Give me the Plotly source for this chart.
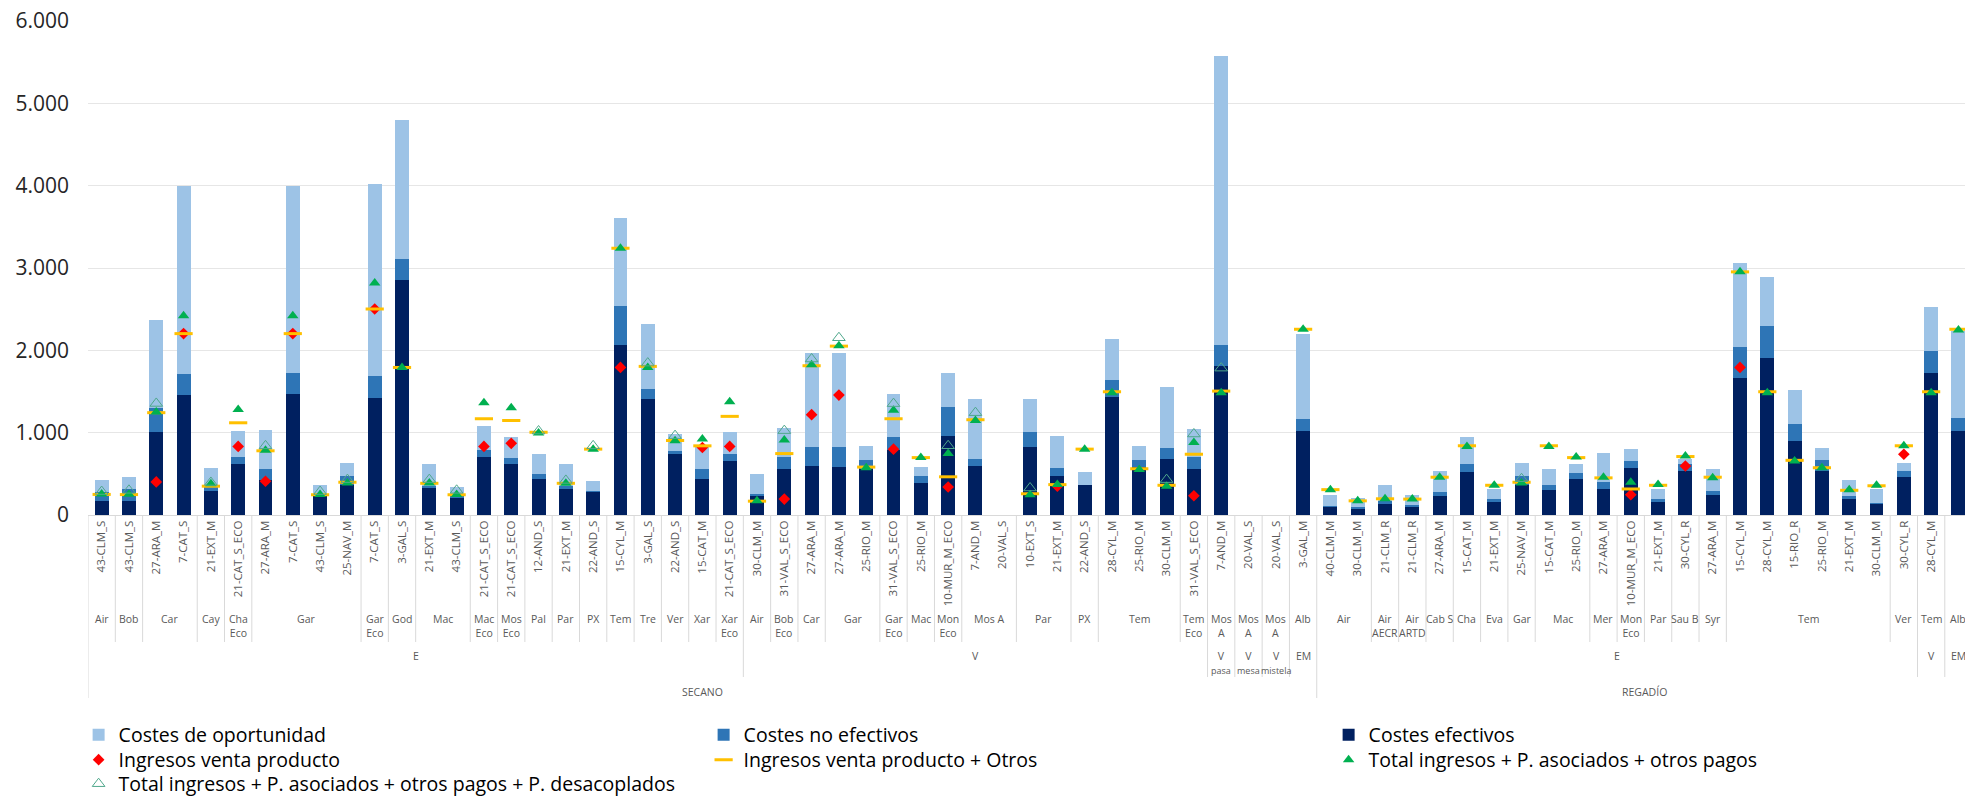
import plotly.graph_objects as go

# ---------------- data ----------------
codes = ["43-CLM_S", "43-CLM_S", "27-ARA_M", "7-CAT_S", "21-EXT_M", "21-CAT_S_ECO", "27-ARA_M", "7-CAT_S",
         "43-CLM_S", "25-NAV_M", "7-CAT_S", "3-GAL_S", "21-EXT_M", "43-CLM_S", "21-CAT_S_ECO", "21-CAT_S_ECO",
         "12-AND_S", "21-EXT_M", "22-AND_S", "15-CYL_M", "3-GAL_S", "22-AND_S", "15-CAT_M", "21-CAT_S_ECO",
         "30-CLM_M", "31-VAL_S_ECO", "27-ARA_M", "27-ARA_M", "25-RIO_M", "31-VAL_S_ECO", "25-RIO_M", "10-MUR_M_ECO",
         "7-AND_M", "20-VAL_S", "10-EXT_S", "21-EXT_M", "22-AND_S", "28-CYL_M", "25-RIO_M", "30-CLM_M",
         "31-VAL_S_ECO", "7-AND_M", "20-VAL_S", "20-VAL_S", "3-GAL_M",
         "40-CLM_M", "30-CLM_M", "21-CLM_R", "21-CLM_R", "27-ARA_M", "15-CAT_M", "21-EXT_M", "25-NAV_M",
         "15-CAT_M", "25-RIO_M", "27-ARA_M", "10-MUR_M_ECO", "21-EXT_M", "30-CYL_R", "27-ARA_M", "15-CYL_M",
         "28-CYL_M", "15-RIO_R", "25-RIO_M", "21-EXT_M", "30-CLM_M", "30-CYL_R", "28-CYL_M", "3-GAL_M"]

variety = ["Air", "Bob", "Car", "Car", "Cay", "Cha<br>Eco", "Gar", "Gar", "Gar", "Gar", "Gar<br>Eco", "God",
           "Mac", "Mac", "Mac<br>Eco", "Mos<br>Eco", "Pal", "Par", "PX", "Tem", "Tre", "Ver", "Xar", "Xar<br>Eco",
           "Air", "Bob<br>Eco", "Car", "Gar", "Gar", "Gar<br>Eco", "Mac", "Mon<br>Eco", "Mos A", "Mos A",
           "Par", "Par", "PX", "Tem", "Tem", "Tem", "Tem<br>Eco",
           "Mos<br>A", "Mos<br>A", "Mos<br>A", "Alb",
           "Air", "Air", "Air<br>AECR", "Air<br>ARTD", "Cab S", "Cha", "Eva", "Gar", "Mac", "Mac", "Mer",
           "Mon<br>Eco", "Par", "Sau B", "Syr", "Tem", "Tem", "Tem", "Tem", "Tem", "Tem", "Ver", "Tem", "Alb"]

vtype = (["E"] * 24 + ["V"] * 17
         + ["V<br><span style='font-size:9px'>pasa</span>",
            "V<br><span style='font-size:9px'>mesa</span>",
            "V<br><span style='font-size:9px'>mistela</span>", "EM"]
         + ["E"] * 22 + ["V", "EM"])

irrig = ["SECANO"] * 45 + ["REGADÍO"] * 24

cost_eff = [175, 175, 1005, 1455, 295, 615, 430, 1465, 225, 360, 1425, 2860, 325, 205, 700, 615,
            440, 320, 280, 2065, 1405, 740, 440, 655,
            225, 560, 595, 580, 555, 790, 390, 965, 595, None, 830, 470, 365, 1435, 585, 685, 560,
            1815, None, None, 1015,
            100, 80, 130, 95, 225, 520, 155, 360, 305, 440, 320, 565, 155, 540, 240, 1660,
            1905, 895, 540, 195, 135, 465, 1730, 1015]

cost_noeff = [110, 135, 290, 260, 50, 85, 130, 260, 35, 110, 265, 255, 25, 40, 95, 80,
              60, 30, 15, 470, 125, 40, 120, 90,
              35, 150, 225, 240, 115, 160, 80, 350, 90, None, 180, 105, 5, 205, 85, 125, 145,
              255, None, None, 145,
              15, 20, 40, 30, 50, 105, 35, 110, 55, 75, 80, 90, 40, 80, 55, 380,
              390, 205, 125, 40, 5, 75, 260, 165]

cost_opp = [135, 150, 1075, 2280, 230, 325, 475, 2275, 110, 165, 2330, 1685, 265, 90, 285, 250,
            245, 275, 115, 1075, 790, 205, 280, 265,
            240, 350, 1150, 1150, 165, 525, 110, 410, 730, None, 395, 380, 155, 500, 165, 740, 340,
            3510, None, None, 1035,
            125, 110, 200, 120, 260, 320, 125, 165, 200, 100, 350, 150, 125, 60, 260, 1025,
            590, 420, 150, 185, 170, 95, 540, 1060]

ing_venta = [None, None, 402, 2203, None, 833, 410, 2203, None, None, 2502, None, None, None, 833, 870,
             None, None, None, 1792, None, None, 820, 833,
             None, 193, 1218, 1456, None, 800, None, 340, None, None, None, 349, None, None, None, None, 234,
             None, None, None, None,
             None, None, None, None, None, None, None, None, None, None, None, 246, None, 595, None, 1792,
             None, None, None, None, None, 738, None, None]

ing_otros = [250, 248, 1243, 2203, 350, 1120, 780, 2203, 246, 398, 2502, 1792, 385, 246, 1169, 1148,
             1005, 385, 800, 3240, 1805, 905, 840, 1198,
             168, 746, 1813, 2051, 582, 1169, 697, 464, 1157, None, 258, 369, 800, 1497, 562, 361, 738,
             1505, None, None, 2256,
             308, 172, 197, 193, 459, 841, 361, 398, 841, 697, 451, 316, 361, 710, 459, 2953,
             1497, 664, 574, 300, 355, 841, 1497, 2256]

total_pa = [255, 252, 1250, 2420, 380, 1280, 785, 2420, 250, 390, 2818, 1792, 390, 250, 1362, 1304,
            995, 385, 800, 3240, 1792, 902, 923, 1374,
            172, 911, 1825, 2055, 574, 1272, 697, 746, 1148, None, 246, 369, 800, 1485, 554, 349, 882,
            1485, None, None, 2256,
            308, 172, 197, 193, 459, 833, 361, 390, 833, 705, 459, 398, 369, 718, 451, 2953,
            1485, 656, 574, 308, 361, 841, 1485, 2248]

total_desac = [285, 300, 1355, None, 395, None, 840, None, 285, 430, None, None, 430, 300, None, None,
               1020, 420, 840, None, 1845, 964, None, None,
               None, 1025, 1895, 2153, None, 1353, None, 841, 1243, None, 328, None, None, None, None, 430, 984,
               1784, None, None, None,
               None, None, None, None, None, None, None, 440, None, None, None, None, None, None, None, None,
               None, None, None, None, None, None, None, None]

y_ticks = [0, 1000, 2000, 3000, 4000, 5000, 6000]
y_ticktext = ["0", "1.000", "2.000", "3.000", "4.000", "5.000", "6.000"]

# ---------------- styling / layout constants ----------------
W, H = 1965, 797
PLOT_TOP, PLOT_BOTTOM = 21, 515
PLOT_LEFT = 88
PH = PLOT_BOTTOM - PLOT_TOP
FONT = "'Open Sans', Lato, sans-serif"
LBL = "#595959"
SEP = "#D9D9D9"

C_OPP, C_NOEFF, C_EFF = "#9DC3E6", "#2E75B6", "#002060"
C_RED, C_YEL, C_GRN, C_OPEN = "#FF0000", "#FFC000", "#00B050", "#4FA88C"


def py(ypx):
    """convert a pixel row of the page to paper y coordinate"""
    return (PLOT_BOTTOM - ypx) / PH


n = len(codes)
xs = list(range(n))

fig = go.Figure()
fig.add_bar(x=xs, y=cost_eff, name="Costes efectivos", marker=dict(color=C_EFF, line_width=0),
            legend="legend", legendrank=3)
fig.add_bar(x=xs, y=cost_noeff, name="Costes no efectivos", marker=dict(color=C_NOEFF, line_width=0),
            legend="legend", legendrank=2)
fig.add_bar(x=xs, y=cost_opp, name="Costes de oportunidad", marker=dict(color=C_OPP, line_width=0),
            legend="legend", legendrank=1)

fig.add_scatter(x=xs, y=ing_venta, mode="markers", name="Ingresos venta producto",
                marker=dict(symbol="diamond", size=9, color=C_RED, line_width=0),
                legend="legend2", legendrank=4)
fig.add_scatter(x=xs, y=ing_otros, mode="markers", name="Ingresos venta producto + Otros",
                marker=dict(symbol="line-ew", size=13, color=C_YEL, line=dict(color=C_YEL, width=3)),
                legend="legend2", legendrank=5)
fig.add_scatter(x=xs, y=total_pa, mode="markers", name="Total ingresos + P. asociados + otros pagos",
                marker=dict(symbol="triangle-up", size=10, color=C_GRN, line_width=0),
                legend="legend2", legendrank=6)
fig.add_scatter(x=xs, y=total_desac, mode="markers",
                name="Total ingresos + P. asociados + otros pagos + P. desacoplados",
                marker=dict(symbol="triangle-up-open", size=11, color=C_OPEN, line=dict(color=C_OPEN, width=1)),
                legend="legend3", legendrank=7)

# ---------------- hierarchical category labels ----------------
annotations = []
shapes = []


def groups(keyfunc):
    out = []
    start = 0
    for i in range(1, n + 1):
        if i == n or keyfunc(i) != keyfunc(start):
            out.append((start, i - 1))
            start = i
    return out


rows = [
    (lambda i: (irrig[i], vtype[i], variety[i]), variety, 610),
    (lambda i: (irrig[i], vtype[i]), vtype, 647),
    (lambda i: irrig[i], irrig, 683),
]
for keyf, labels, ytop in rows:
    for a, b in groups(keyf):
        annotations.append(dict(x=(a + b) / 2, y=py(ytop), xref="x", yref="paper", text=labels[a],
                                showarrow=False, xanchor="center", yanchor="top",
                                font=dict(family=FONT, size=10.5, color=LBL)))

# separator lines between groups
line_end = {0: 698, 1: 677, 2: 642}
for i in range(n):
    if i == 0:
        level = 0
    elif irrig[i] != irrig[i - 1]:
        level = 0
    elif vtype[i] != vtype[i - 1]:
        level = 1
    elif variety[i] != variety[i - 1]:
        level = 2
    else:
        continue
    shapes.append(dict(type="line", xref="x", yref="paper", x0=i - 0.5, x1=i - 0.5,
                       y0=0, y1=py(line_end[level]), line=dict(color=SEP, width=1)))

leg_common = dict(orientation="h", x=-0.005, xanchor="left", yanchor="middle",
                  traceorder="normal", entrywidth=580, entrywidthmode="pixels",
                  font=dict(family=FONT, size=19.5, color="#000000"), itemwidth=30,
                  bgcolor="rgba(0,0,0,0)")

fig.update_layout(
    width=W, height=H,
    margin=dict(l=PLOT_LEFT, r=0, t=PLOT_TOP, b=H - PLOT_BOTTOM, autoexpand=False),
    barmode="stack", bargap=0.49,
    plot_bgcolor="white", paper_bgcolor="white",
    font=dict(family=FONT, color="#404040"),
    showlegend=True,
    legend=dict(y=py(735), **leg_common),
    legend2=dict(y=py(760), **leg_common),
    legend3=dict(y=py(784), **leg_common),
    annotations=annotations,
    shapes=shapes,
)

fig.update_xaxes(range=[-0.5, 68.24], tickmode="array", tickvals=xs, ticktext=codes, tickangle=-90,
                 tickfont=dict(family=FONT, size=11.5, color=LBL), showgrid=False, zeroline=False,
                 showline=True, linecolor=SEP, linewidth=1, ticks="", automargin=False, fixedrange=True)
fig.update_yaxes(range=[0, 6000], tickmode="array", tickvals=y_ticks, ticktext=y_ticktext,
                 tickfont=dict(family=FONT, size=21, color="#262626"), showgrid=True,
                 gridcolor="#E6E6E6", gridwidth=1, zeroline=False, showline=False,
                 ticklabelstandoff=18, automargin=False, fixedrange=True)

fig.write_html("out.html", config={"displayModeBar": False},
               post_script="document.body.style.margin='0';document.body.style.overflow='hidden';")
